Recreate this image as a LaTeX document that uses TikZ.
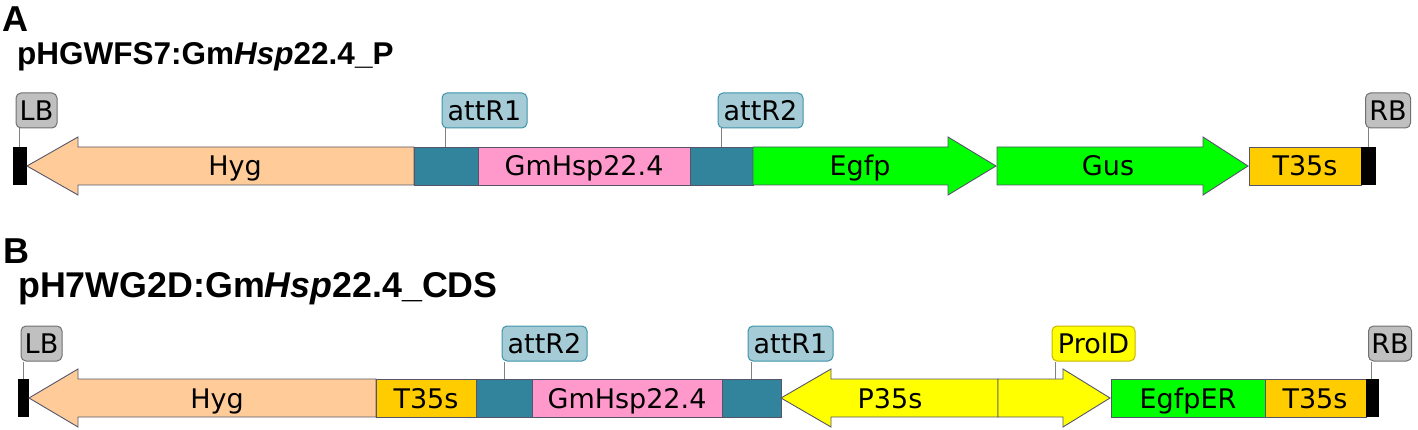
\documentclass[tikz,border=0pt]{standalone}
\usepackage{fontspec}
\setmainfont{DejaVu Sans}
\newfontfamily\ttlfont{Liberation Sans}
\definecolor{peach}{HTML}{FFCC99}
\definecolor{tealseg}{HTML}{31849B}
\definecolor{pinkseg}{HTML}{FF99CC}
\definecolor{greenseg}{HTML}{00FF00}
\definecolor{orangeseg}{HTML}{FFCC00}
\definecolor{yellowseg}{HTML}{FFFF00}
\definecolor{segline}{HTML}{55556A}
\definecolor{attfill}{HTML}{A5CCD6}
\definecolor{attline}{HTML}{3E93AA}
\definecolor{greyfill}{HTML}{C0C0C0}
\definecolor{greyline}{HTML}{707070}
\definecolor{prolline}{HTML}{C8B400}
\definecolor{pinline}{HTML}{808080}
\tikzset{
  seg/.style={draw=segline, line width=0.9pt},
  endpiece/.style={fill=black},
  segtxt/.style={anchor=base, inner sep=0pt, font=\fontsize{27}{32}\selectfont},
  lbl/.style={rounded corners=5pt, line width=1pt, inner sep=0pt, minimum height=35pt, font=\fontsize{27}{32}\selectfont},
  attlbl/.style={lbl, draw=attline, fill=attfill},
  bordlbl/.style={lbl, draw=greyline, fill=greyfill},
  prollbl/.style={lbl, draw=prolline, fill=yellowseg},
  pin/.style={draw=pinline, line width=1pt},
  bigletter/.style={anchor=base west, inner sep=0pt, font=\ttlfont\bfseries\fontsize{36}{40}\selectfont},
  ttlA/.style={anchor=base west, inner sep=0pt, font=\ttlfont\bfseries\fontsize{31.5}{36}\selectfont},
  ttlB/.style={anchor=base west, inner sep=0pt, font=\ttlfont\bfseries\fontsize{35.8}{40}\selectfont}
}
\begin{document}
\begin{tikzpicture}[x=1pt, y=-1pt]
\useasboundingbox (0,0) rectangle (1418,430);

% ---------- Panel A ----------
\node[bigletter] (letA) at (2,32) {A};
\node[ttlA] (titleA) at (17,65) {pHGWFS7:Gm\textit{Hsp}22.4\_P};

\fill[endpiece] (13,147) rectangle (27,185);
\filldraw[seg, fill=peach] (27,166) -- (78,137) -- (78,147) -- (414,147) -- (414,185) -- (78,185) -- (78,195) -- cycle;
\node[segtxt] (hygA) at (235,176) {Hyg};
\filldraw[seg, fill=tealseg] (414,147) rectangle (478,185);
\filldraw[seg, fill=pinkseg] (478,147) rectangle (690,185);
\node[segtxt] (gmA) at (584,176) {GmHsp22.4};
\filldraw[seg, fill=tealseg] (690,147) rectangle (753,185);
\filldraw[seg, fill=greenseg] (753,147) -- (948,147) -- (948,137) -- (996,166) -- (948,195) -- (948,185) -- (753,185) -- cycle;
\node[segtxt] (egfpA) at (860,176) {Egfp};
\filldraw[seg, fill=greenseg] (997,147) -- (1203,147) -- (1203,137) -- (1248,166) -- (1203,195) -- (1203,185) -- (997,185) -- cycle;
\node[segtxt] (gusA) at (1108,176) {Gus};
\filldraw[seg, fill=orangeseg] (1249,147) rectangle (1361,185);
\node[segtxt] (tA) at (1305,176) {T35s};
\fill[endpiece] (1361,147) rectangle (1376,185);

\node[bordlbl, minimum width=41pt] (lbA) at (36.5,110.5) {LB};
\node[attlbl, minimum width=85pt] (r1A) at (484.5,110.5) {attR1};
\node[attlbl, minimum width=85pt] (r2A) at (760.5,110.5) {attR2};
\node[bordlbl, minimum width=45pt] (rbA) at (1388,110.5) {RB};

\coordinate (plbA) at (19,147);
\coordinate (pr1A) at (445,147);
\coordinate (pr2A) at (721,147);
\coordinate (prbA) at (1368,147);
\draw[pin] (plbA) -- (plbA |- lbA.south);
\draw[pin] (pr1A) -- (pr1A |- r1A.south);
\draw[pin] (pr2A) -- (pr2A |- r2A.south);
\draw[pin] (prbA) -- (prbA |- rbA.south);

% ---------- Panel B ----------
\node[bigletter] (letB) at (3,263) {B};
\node[ttlB] (titleB) at (18,297) {pH7WG2D:Gm\textit{Hsp}22.4\_CDS};

\fill[endpiece] (18,379) rectangle (29,417);
\filldraw[seg, fill=peach] (29,398) -- (78,369) -- (78,379) -- (376,379) -- (376,417) -- (78,417) -- (78,427) -- cycle;
\node[segtxt] (hygB) at (217,408) {Hyg};
\filldraw[seg, fill=orangeseg] (376,379) rectangle (476,417);
\node[segtxt] (t1B) at (426,408) {T35s};
\filldraw[seg, fill=tealseg] (476,379) rectangle (532,417);
\filldraw[seg, fill=pinkseg] (532,379) rectangle (722,417);
\node[segtxt] (gmB) at (627,408) {GmHsp22.4};
\filldraw[seg, fill=tealseg] (722,379) rectangle (781,417);
\filldraw[seg, fill=yellowseg] (781,398) -- (831,369) -- (831,379) -- (998,379) -- (998,417) -- (831,417) -- (831,427) -- cycle;
\node[segtxt] (p35B) at (890,408) {P35s};
\filldraw[seg, fill=yellowseg] (998,379) -- (1063,379) -- (1063,369) -- (1110,398) -- (1063,427) -- (1063,417) -- (998,417) -- cycle;
\filldraw[seg, fill=greenseg] (1111,379) rectangle (1265,417);
\node[segtxt] (egB) at (1188,408) {EgfpER};
\filldraw[seg, fill=orangeseg] (1265,379) rectangle (1366,417);
\node[segtxt] (t2B) at (1315,408) {T35s};
\fill[endpiece] (1366,379) rectangle (1379,417);

\node[bordlbl, minimum width=41pt] (lbB) at (41.5,343.5) {LB};
\node[attlbl, minimum width=85pt] (r2B) at (544.5,343.5) {attR2};
\node[attlbl, minimum width=85pt] (r1B) at (790.5,343.5) {attR1};
\node[prollbl, minimum width=83pt] (prB) at (1093.5,343.5) {ProlD};
\node[bordlbl, minimum width=43pt] (rbB) at (1390,343.5) {RB};

\coordinate (plbB) at (23,379);
\coordinate (pr2B) at (504,379);
\coordinate (pr1B) at (751,379);
\coordinate (pprB) at (1055,379);
\coordinate (prbB) at (1371,379);
\draw[pin] (plbB) -- (plbB |- lbB.south);
\draw[pin] (pr2B) -- (pr2B |- r2B.south);
\draw[pin] (pr1B) -- (pr1B |- r1B.south);
\draw[pin] (pprB) -- (pprB |- prB.south);
\draw[pin] (prbB) -- (prbB |- rbB.south);
\end{tikzpicture}
\end{document}
